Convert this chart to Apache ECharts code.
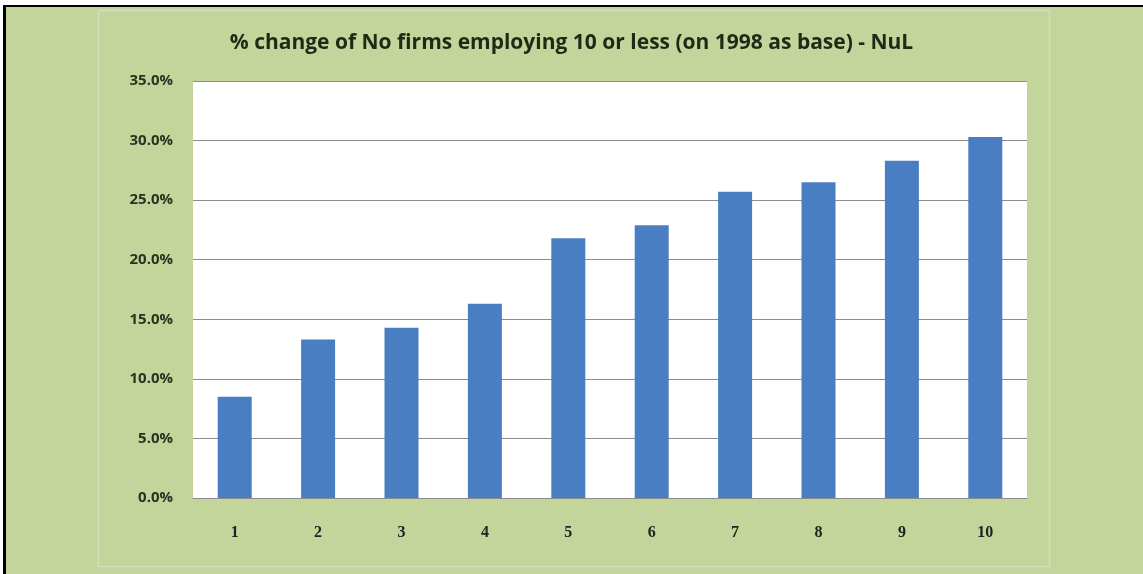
<!DOCTYPE html>
<html>
<head>
<meta charset="utf-8">
<script src="https://cdn.jsdelivr.net/npm/echarts@6/dist/echarts.min.js"></script>
<style>
  html, body { margin: 0; padding: 0; background: #ffffff; }
  #chart { width: 1143px; height: 574px; }
</style>
</head>
<body>
<div id="chart"></div>
<script>
// Years since 1998 (category labels)
const categories = ['1', '2', '3', '4', '5', '6', '7', '8', '9', '10'];
// % change in number of firms employing 10 or less, relative to 1998
const pctChange = [0.085, 0.133, 0.143, 0.163, 0.218, 0.229, 0.257, 0.265, 0.283, 0.303];
// Value axis ticks
const yMin = 0;
const yMax = 0.35;
const yStep = 0.05;

const chart = echarts.init(document.getElementById('chart'), null, { renderer: 'canvas' });

chart.setOption({
  animation: false,
  backgroundColor: '#c4d59b',
  title: {
    text: '% change of No firms employing 10 or less (on 1998 as base) - NuL',
    left: 'center',
    top: 28,
    textStyle: {
      fontFamily: 'Open Sans',
      fontWeight: 'bold',
      fontSize: 21,
      color: '#1e2a16'
    }
  },
  graphic: [
    { type: 'rect', shape: { x: 0, y: 0, width: 3, height: 574 }, style: { fill: '#ffffff' }, silent: true },
    { type: 'rect', shape: { x: 0, y: 0, width: 1143, height: 5 }, style: { fill: '#ffffff' }, silent: true },
    { type: 'rect', shape: { x: 3, y: 5, width: 3, height: 569 }, style: { fill: '#000000' }, silent: true },
    { type: 'rect', shape: { x: 3, y: 5, width: 1140, height: 2 }, style: { fill: '#000000' }, silent: true },
    { type: 'rect', shape: { x: 98.5, y: 10.5, width: 951, height: 556 },
      style: { fill: 'none', stroke: '#d5dfbd', lineWidth: 1.5 }, silent: true, z: -1 }
  ],
  grid: {
    left: 193,
    right: 116,
    top: 81,
    bottom: 76,
    show: true,
    backgroundColor: '#ffffff',
    borderWidth: 0
  },
  xAxis: {
    type: 'category',
    data: categories,
    axisTick: { show: false },
    axisLine: { show: true, lineStyle: { color: '#8c8c8c', width: 1 } },
    axisLabel: {
      margin: 27,
      fontFamily: 'Liberation Serif',
      fontWeight: 'bold',
      fontSize: 16,
      color: '#222222'
    }
  },
  yAxis: {
    type: 'value',
    min: yMin,
    max: yMax,
    interval: yStep,
    axisLine: { show: false },
    axisTick: { show: false },
    splitLine: { show: true, lineStyle: { color: '#8c8c8c', width: 1 } },
    axisLabel: {
      margin: 20,
      fontFamily: 'Open Sans',
      fontWeight: 'bold',
      fontSize: 15,
      color: '#2a3320',
      formatter: v => (v * 100).toFixed(1) + '%'
    }
  },
  series: [{
    type: 'bar',
    data: pctChange,
    barWidth: 34,
    itemStyle: { color: '#4a7ec2' }
  }]
});
</script>
</body>
</html>
